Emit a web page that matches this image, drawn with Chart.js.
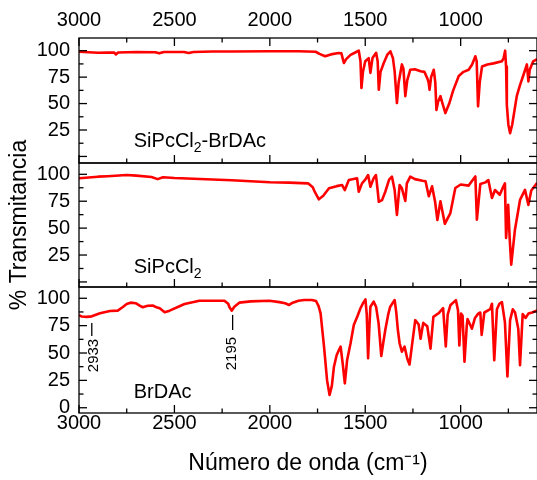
<!DOCTYPE html>
<html><head><meta charset="utf-8">
<script src="https://cdn.jsdelivr.net/npm/chart.js@4/dist/chart.umd.min.js"></script>
<style>html,body{margin:0;padding:0;background:#fff;}</style>
</head><body>
<canvas id="c" width="537" height="480"></canvas>
<script>
// ---- tick values ----
const wavenumberTicks = [3000, 2500, 2000, 1500, 1000];
const wavenumberMinorTicks = [2750, 2250, 1750, 1250, 750];
const transTicksLabeled = [25, 50, 75, 100];
const transTicksLabeledBottom = [0, 25, 50, 75, 100];
const transTicksMajor = [0, 25, 50, 75, 100];
const transTicksMinor = [12.5, 37.5, 62.5, 87.5];

// ---- panel names ----
const panelNames = [["SiPcCl", "2", "-BrDAc"], ["SiPcCl", "2", ""], ["BrDAc", "", ""]];

// ---- band labels (BrDAc) ----
const bandWavenumbers = [2933, 2195];
const bandTexts = ["2933", "2195"];

// ---- spectra [wavenumber, %T] ----
const spectrumSiPcCl2BrDAc = [
[3000,99],[2950,98.5],[2900,98],[2850,98.3],[2815,98.2],[2807,96.5],[2795,98.3],[2700,98.8],[2600,98.5],[2580,97.5],[2555,98.8],[2450,98.8],[2425,97.8],[2400,98.8],[2300,99.2],[2200,99.3],[2000,99.5],[1850,99.5],[1760,99],[1740,97],[1710,94.7],[1680,96.5],[1640,97.8],[1625,97.5],[1612,88.4],[1600,92],[1577,96],[1550,98.5],[1534,100],[1525,90],[1520,64.7],[1512,80],[1500,90],[1482,93],[1473,79],[1462,93],[1443,98],[1435,90],[1429,63],[1420,80],[1403,88.4],[1385,96],[1368,99.4],[1355,93],[1346,80.5],[1334,50.5],[1325,70],[1308,87],[1300,83],[1290,57],[1280,72],[1264,82],[1240,82.5],[1210,80.5],[1190,80],[1175,74],[1168,70],[1163,63],[1155,75],[1141,82],[1133,70],[1127,44],[1118,52],[1106,57],[1095,50],[1080,41],[1060,50],[1040,62],[1010,76],[985,80],[958,82],[940,87],[923,94.7],[916,90],[909,47.4],[900,70],[888,85],[860,87],[828,88],[784,90],[775,93],[767,100],[762,85],[758,48.5],[750,30],[741,22],[730,30],[706,57],[690,67],[671,77],[653,87],[645,71],[638,82],[620,90],[600,92]
];
const spectrumSiPcCl2 = [
[3000,96.3],[2950,97],[2900,97.8],[2850,98.2],[2750,99.3],[2700,98.8],[2620,97.5],[2588,95.5],[2560,97.3],[2500,96.5],[2400,95.8],[2300,95.2],[2200,94.5],[2100,93.5],[2000,92.6],[1900,92.3],[1800,91.6],[1775,88],[1765,83.8],[1743,76.8],[1720,80],[1690,87],[1650,89],[1621,90],[1607,85.4],[1586,94.7],[1543,96.3],[1534,83.8],[1517,91.6],[1500,95],[1485,99.3],[1473,88.5],[1456,96.3],[1444,99.3],[1435,85],[1429,74.5],[1412,76],[1395,83.8],[1375,95],[1360,97.8],[1346,85.4],[1334,62.2],[1320,90],[1308,87],[1290,75.2],[1282,91.6],[1264,97.8],[1240,95.5],[1200,94],[1184,93.5],[1167,79.6],[1150,88.8],[1134,74.5],[1122,57.5],[1106,74.9],[1083,54],[1054,64],[1028,87.3],[1000,90.5],[958,89.5],[940,94],[923,98],[915,57.8],[897,91],[870,92.5],[855,94.7],[836,78],[820,85.4],[795,81],[776,88.8],[768,91.6],[762,40.8],[751,71.6],[743,40],[735,16],[716,48],[689,76.2],[663,85.5],[645,71.6],[630,85],[600,92]
];
const spectrumBrDAc = [
[3000,84.7],[2985,83.3],[2960,83],[2933,83.5],[2890,86.3],[2838,88.4],[2797,88.7],[2770,92],[2750,94.8],[2730,96],[2703,95.5],[2680,93],[2666,91.8],[2640,93.2],[2614,93.4],[2590,91.5],[2577,90.8],[2551,87.2],[2525,88.7],[2447,94.8],[2369,97.8],[2238,97.8],[2218,95],[2212,92],[2200,88.7],[2186,92.3],[2160,96],[2100,97.2],[2003,97.8],[1950,96.5],[1920,95.5],[1899,93.9],[1880,96],[1850,97.8],[1820,98.4],[1780,98.4],[1758,97.5],[1745,93],[1734,86.3],[1716,55.8],[1700,25],[1687,11.6],[1675,20],[1664,37.5],[1650,48],[1638,52.7],[1629,55.8],[1618,40],[1607,22.3],[1595,43.6],[1577,58.9],[1560,75.6],[1540,84],[1525,90.9],[1510,96],[1499,99],[1492,85],[1485,45.2],[1478,75],[1473,92.3],[1456,96.9],[1443,92],[1430,77.1],[1416,47.3],[1405,60],[1395,71],[1380,85],[1369,92.3],[1346,98.4],[1338,88],[1329,71],[1320,58.9],[1308,51.2],[1294,55.8],[1280,45],[1268,39.5],[1256,55.8],[1238,80],[1220,76],[1210,63],[1196,77.5],[1175,74.5],[1158,54],[1143,83],[1116,86.3],[1092,91],[1078,56],[1068,85],[1054,93.6],[1025,98.3],[1014,89],[1007,57],[998,86],[990,84],[980,42],[968,75],[964,81],[941,72.2],[925,82],[908,86],[897,87],[890,66.5],[876,87],[845,90],[836,95],[824,43.5],[810,90],[797,95],[784,96.6],[768,78],[755,28.5],[741,80],[727,90],[715,87],[698,72],[689,38.8],[675,85.5],[660,82],[645,86],[625,87],[600,89]
];

const FONT = "'Liberation Sans', Arial, Helvetica, sans-serif";
const toXY = arr => arr.map(p => ({x: p[0], y: p[1]}));
const setTicks = vals => s => { s.ticks = vals.map(v => ({value: v})); };
const plainLabel = v => String(v);

function yScale(weight, stackWeight, min, max, labeled, title) {
  return {
    type: 'linear', position: 'left', stack: 'panels', stackWeight: stackWeight, weight: weight,
    min: min, max: max,
    grid: {display: false, drawTicks: false}, border: {display: false},
    afterBuildTicks: setTicks(labeled),
    afterFit: s => { s.width = 79; },
    ticks: {font: {family: FONT, size: 20}, color: '#000', padding: 9, autoSkip: false, callback: plainLabel},
    title: title ? {display: true, text: title, font: {family: FONT, size: 23}, color: '#000', padding: {top: 6, bottom: 0}} : {display: false}
  };
}

const framePlugin = {
  id: 'frameTicks',
  afterDatasetsDraw(chart, args, opts) {
    const ctx = chart.ctx, ca = chart.chartArea, xs = chart.scales.x;
    const panels = ['yTop', 'yMid', 'yBot'].map(id => chart.scales[id]);
    ctx.save();
    ctx.strokeStyle = '#000';
    ctx.lineWidth = 1.3;
    const line = (x1, y1, x2, y2) => { ctx.beginPath(); ctx.moveTo(x1, y1); ctx.lineTo(x2, y2); ctx.stroke(); };
    const MAJ = 8, MIN = 4.5;
    panels.forEach((s, i) => {
      ctx.strokeRect(ca.left, s.top, ca.right - ca.left, s.bottom - s.top);
      transTicksMajor.forEach(v => { const y = s.getPixelForValue(v); line(ca.left, y, ca.left + MAJ, y); line(ca.right, y, ca.right - MAJ, y); });
      transTicksMinor.forEach(v => { const y = s.getPixelForValue(v); line(ca.left, y, ca.left + MIN, y); line(ca.right, y, ca.right - MIN, y); });
      wavenumberTicks.forEach(v => { const x = xs.getPixelForValue(v); line(x, s.bottom, x, s.bottom - MAJ); if (i === 0) line(x, s.top, x, s.top + MAJ); });
      wavenumberMinorTicks.forEach(v => { const x = xs.getPixelForValue(v); line(x, s.bottom, x, s.bottom - MIN); if (i === 0) line(x, s.top, x, s.top + MIN); });
      // panel name
      const nm = panelNames[i];
      let px = xs.getPixelForValue(opts.nameX), py = s.getPixelForValue(opts.nameY);
      ctx.fillStyle = '#000';
      ctx.textBaseline = 'alphabetic'; ctx.textAlign = 'left';
      ctx.font = '20px ' + FONT;
      ctx.fillText(nm[0], px, py); px += ctx.measureText(nm[0]).width;
      if (nm[1]) { ctx.font = '14px ' + FONT; ctx.fillText(nm[1], px, py + 5); px += ctx.measureText(nm[1]).width; }
      if (nm[2]) { ctx.font = '20px ' + FONT; ctx.fillText(nm[2], px, py); }
    });
    // band annotations on BrDAc panel
    const sb = chart.scales.yBot;
    bandWavenumbers.forEach((w, k) => {
      const x = xs.getPixelForValue(w);
      const a = opts.bands[k];
      line(x, sb.getPixelForValue(a.lineTop), x, sb.getPixelForValue(a.lineBottom));
      ctx.save();
      ctx.translate(x + a.dx, sb.getPixelForValue(a.textY));
      ctx.rotate(-Math.PI / 2);
      ctx.font = '15px ' + FONT; ctx.fillStyle = '#000';
      ctx.textAlign = 'center'; ctx.textBaseline = 'middle';
      ctx.fillText(bandTexts[k], 0, 0);
      ctx.restore();
    });
    ctx.restore();
  }
};

const lineDs = (data, axis) => ({data: toXY(data), yAxisID: axis, xAxisID: 'x', borderColor: '#ff0000', borderWidth: 2.6, pointRadius: 0, fill: false, tension: 0, borderJoinStyle: 'round'});

new Chart(document.getElementById('c'), {
  type: 'line',
  data: { datasets: [
    lineDs(spectrumSiPcCl2BrDAc, 'yTop'),
    lineDs(spectrumSiPcCl2, 'yMid'),
    lineDs(spectrumBrDAc, 'yBot')
  ]},
  options: {
    responsive: false, animation: false, devicePixelRatio: 1,
    layout: {padding: {left: 0, right: -2, top: 0, bottom: 0}},
    plugins: {
      legend: {display: false}, tooltip: {enabled: false},
      frameTicks: {
        nameX: 2713, nameY: 8.5,
        bands: [ {lineTop: 77.4, lineBottom: 65.5, textY: 47.7, dx: 2}, {lineTop: 84.8, lineBottom: 71, textY: 49.5, dx: -1} ]
      }
    },
    scales: {
      x: {
        type: 'linear', position: 'bottom', min: 600, max: 3000, reverse: true,
        grid: {display: false, drawTicks: false}, border: {display: false},
        afterBuildTicks: setTicks(wavenumberTicks),
        afterFit: s => { s.height = 67; },
        ticks: {font: {family: FONT, size: 20}, color: '#000', padding: -2, maxRotation: 0, autoSkip: false, callback: plainLabel},
        title: {display: true, text: 'Número de onda (cm⁻¹)', font: {family: FONT, size: 23}, color: '#000', padding: {top: 0, bottom: 3}}
      },
      xTop: {
        type: 'linear', position: 'top', min: 600, max: 3000, reverse: true,
        grid: {display: false, drawTicks: false}, border: {display: false},
        afterBuildTicks: setTicks(wavenumberTicks),
        afterFit: s => { s.height = 38; },
        ticks: {font: {family: FONT, size: 20}, color: '#000', padding: 6, maxRotation: 0, autoSkip: false, callback: plainLabel}
      },
      yTop: yScale(3, 125, -6.2, 112, transTicksLabeled, null),
      yMid: yScale(2, 124, -4.7, 110.5, transTicksLabeled, '% Transmitancia'),
      yBot: yScale(1, 126, -4.8, 110.3, transTicksLabeledBottom, null)
    }
  },
  plugins: [framePlugin]
});
</script>
</body></html>
